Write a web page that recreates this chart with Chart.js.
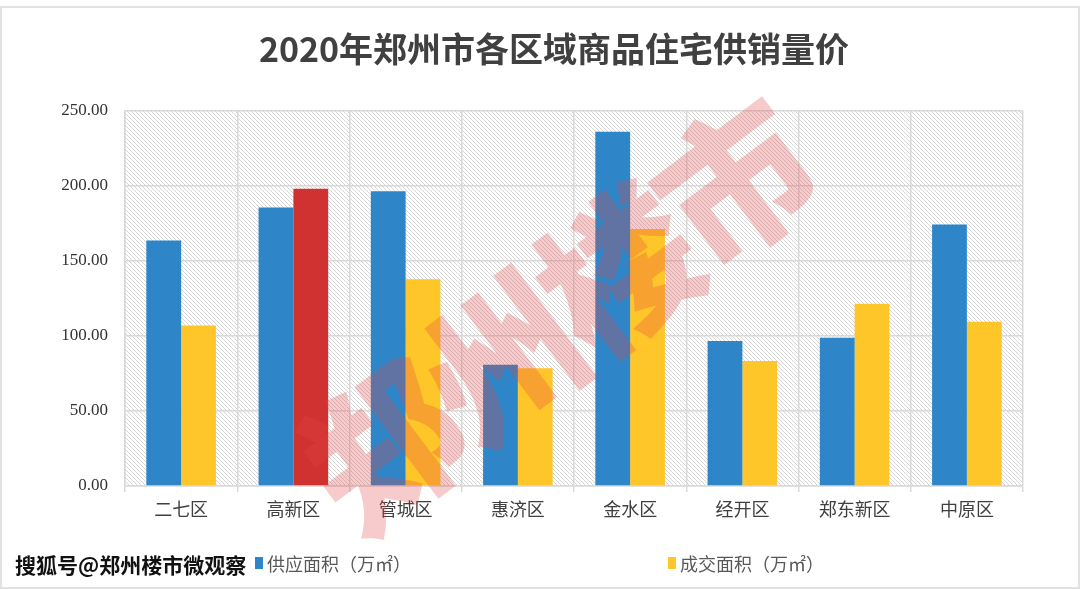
<!DOCTYPE html>
<html>
<head>
<meta charset="utf-8">
<script src="https://cdn.jsdelivr.net/npm/chart.js@4/dist/chart.umd.min.js"></script>
<style>
  body { margin: 0; background: #fff; }
  #wrap { position: relative; width: 1080px; height: 589px; overflow: hidden; }
  #frame { position: absolute; left: 0; top: 6px; width: 1080px; height: 583px; box-sizing: border-box; border: 2px solid #e2e2e2; pointer-events: none; }
  .lg { position: absolute; top: 551px; font: 18px "Noto Sans CJK SC"; color: #595959; line-height: 24px; }
  .lg i { position: absolute; left: -12px; top: 6px; width: 8px; height: 12px; }
  #stamp { position: absolute; left: 15px; top: 549px; font: bold 21px "Noto Sans CJK SC"; color: #111;
    text-shadow: -1px 0 #fff, 1px 0 #fff, 0 -1px #fff, 0 1px #fff; }
  #mark { position: absolute; left: 258px; top: 198px; font: 900 155px "Noto Sans CJK SC"; color: rgba(225, 70, 70, 0.28);
    transform: rotate(-37deg); transform-origin: center; white-space: nowrap; pointer-events: none; letter-spacing: -8px; }
</style>
</head>
<body>
<div id="wrap">
  <canvas id="chart" width="1080" height="589"></canvas>
  <div id="mark">郑州楼市</div>
  <div id="frame"></div>
  <div id="stamp">搜狐号@郑州楼市微观察</div>
  <div class="lg" style="left:267px"><i style="background:#2e86c8"></i>供应面积（万㎡）</div>
  <div class="lg" style="left:680px"><i style="background:#ffc629"></i>成交面积（万㎡）</div>
</div>
<script>
const districts = ['二七区', '高新区', '管城区', '惠济区', '金水区', '经开区', '郑东新区', '中原区'];
const supplyArea = [163.5, 185.5, 196.4, 80.8, 236.0, 96.6, 98.7, 174.3];
const salesArea = [106.9, 198.0, 137.8, 78.4, 171.2, 83.3, 121.5, 109.4];

const blue = '#2e86c8';
const yellow = '#ffc629';
const red = '#d03232';

// diagonal hatch behind the plot
function hatch() {
  const c = document.createElement('canvas');
  c.width = 4; c.height = 4;
  const g = c.getContext('2d');
  g.strokeStyle = '#d6d6d6';
  g.lineWidth = 1;
  g.beginPath();
  g.moveTo(-1, -1); g.lineTo(5, 5);
  g.moveTo(3, -1); g.lineTo(5, 1);
  g.moveTo(-1, 3); g.lineTo(1, 5);
  g.stroke();
  return g.createPattern(c, 'repeat');
}

const plotBg = {
  id: 'plotBg',
  beforeDraw(chart) {
    const { ctx, chartArea: a } = chart;
    ctx.save();
    ctx.fillStyle = hatch();
    ctx.fillRect(a.left, a.top, a.right - a.left, a.bottom - a.top);
    ctx.restore();
  }
};

new Chart(document.getElementById('chart'), {
  type: 'bar',
  data: {
    labels: districts,
    datasets: [
      { label: '供应面积（万㎡）', data: supplyArea, backgroundColor: blue },
      { label: '成交面积（万㎡）', data: salesArea,
        backgroundColor: salesArea.map((_, i) => i === 1 ? red : yellow) }
    ]
  },
  options: {
    responsive: false,
    animation: false,
    layout: { padding: { left: 28, right: 0, top: 0, bottom: 60 } },
    datasets: { bar: { categoryPercentage: 0.62, barPercentage: 1.0 } },
    plugins: {
      legend: { display: false },
      tooltip: { enabled: false },
      title: {
        display: true,
        text: '2020年郑州市各区域商品住宅供销量价',
        color: '#404040',
        font: { family: 'Noto Sans CJK SC', size: 34, weight: 'bold' },
        padding: { top: 29, bottom: 41 }
      }
    },
    scales: {
      x: {
        grid: { color: '#d9d9d9', lineWidth: 1.5, tickLength: 6 },
        border: { color: '#d9d9d9', width: 1.5 },
        ticks: { color: '#404040', padding: 6, font: { family: 'Noto Sans CJK SC', size: 18 } },
        afterFit: s => { s.height = 43; }
      },
      y: {
        min: 0, max: 250,
        ticks: { stepSize: 50, color: '#333333', padding: 17,
          font: { family: 'Liberation Serif', size: 17 },
          callback: v => v.toFixed(2) },
        grid: { color: '#d9d9d9', lineWidth: 1.5, drawTicks: false },
        border: { color: '#d9d9d9', width: 1.5 },
        afterFit: s => { s.width = 97; }
      },
      // empty right-hand spacer so the plot ends where the reference does
      yRight: {
        position: 'right',
        ticks: { display: false },
        grid: { drawOnChartArea: false, drawTicks: false },
        border: { display: false },
        afterFit: s => { s.width = 57; }
      }
    }
  },
  plugins: [plotBg]
});
</script>
</body>
</html>
